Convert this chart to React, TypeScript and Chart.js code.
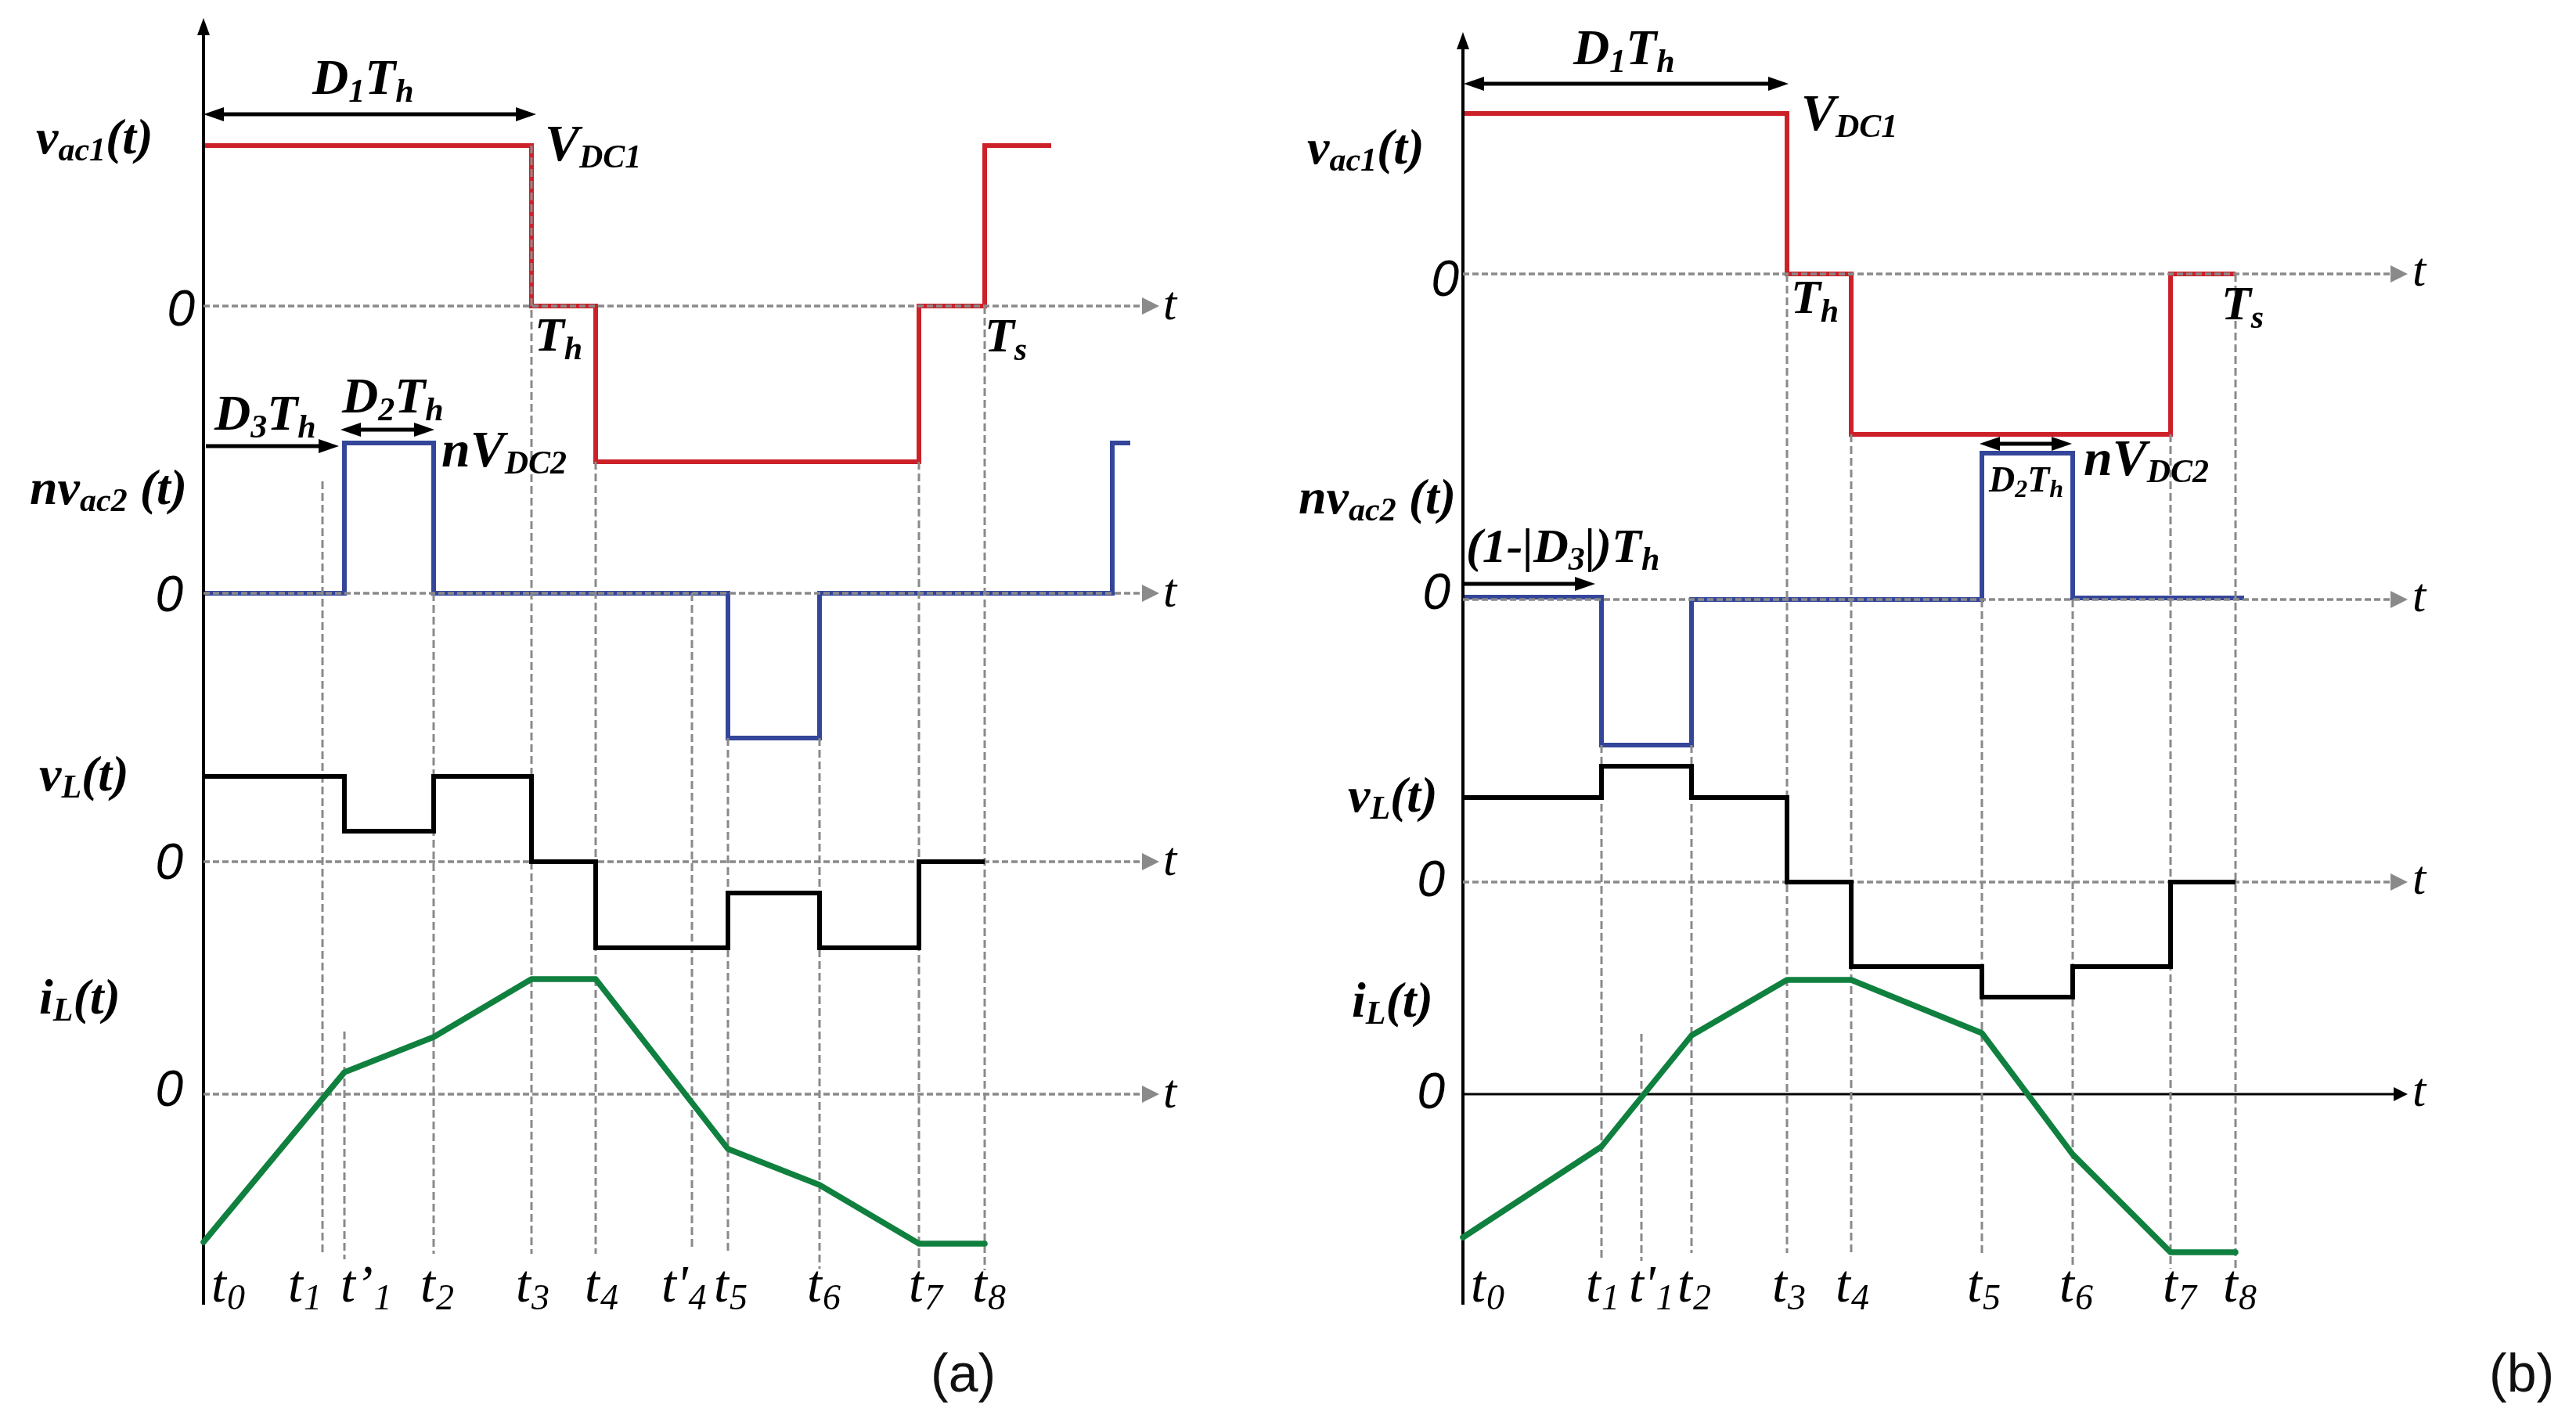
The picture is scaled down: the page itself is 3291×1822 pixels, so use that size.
import React, { useEffect, useRef } from "react";
import { Chart, registerables } from "chart.js";
Chart.register(...registerables);

const W = 3291;
const H = 1822;

// ---------------- panel (a) data (time units from t0, levels positive up) ----------------
const A_VAC1_T = [0, 419, 501, 914, 998, 1083];
const A_VAC1_V = [205, 0, -199, 0, 205, 205];
const A_NVAC2_T = [0, 180, 294, 670, 787, 1161, 1184];
const A_NVAC2_V = [0, 192, 0, -185, 0, 192, 192];
const A_VL_T = [0, 180, 294, 419, 501, 670, 787, 914, 998];
const A_VL_V = [109, 39, 109, 0, -110, -40, -110, 0, 0];
const A_IL_T = [0, 180, 294, 419, 501, 670, 787, 914, 998];
const A_IL_V = [-189, 28, 73, 147, 147, -70, -116, -191, -191];
const A_TICK_T = [0, 152, 180, 294, 419, 501, 624, 670, 787, 914, 998];
const A_TICK_MAIN = ["t", "t", "t’", "t", "t", "t", "t'", "t", "t", "t", "t"];
const A_TICK_SUB = ["0", "1", "1", "2", "3", "4", "4", "5", "6", "7", "8"];
const A_GUIDE_T = [152, 180, 294, 419, 501, 624, 670, 787, 914, 998];

// ---------------- panel (b) data ----------------
const B_VAC1_T = [0, 414, 496, 904, 987];
const B_VAC1_V = [205, 0, -205, 0, 0];
const B_NVAC2_T = [0, 177, 292, 663, 779, 998];
const B_NVAC2_V = [3, -186, 0, 187, 2, 2];
const B_VL_T = [0, 177, 292, 414, 496, 663, 779, 904, 987];
const B_VL_V = [108, 148, 108, 0, -108, -147, -108, 0, 0];
const B_IL_T = [0, 177, 292, 414, 496, 663, 779, 904, 987];
const B_IL_V = [-183, -67, 75, 146, 146, 78, -77, -202, -202];
const B_TICK_T = [0, 177, 228, 292, 414, 496, 663, 779, 904, 987];
const B_TICK_MAIN = ["t", "t", "t'", "t", "t", "t", "t", "t", "t", "t"];
const B_TICK_SUB = ["0", "1", "1", "2", "3", "4", "5", "6", "7", "8"];
const B_GUIDE_T = [177, 228, 292, 414, 496, 663, 779, 904, 987];

// ---------------- layout (positions / sizes / styles) ----------------
const ORIGIN_A = 260;
const ORIGIN_B = 1869;
const A_ROWS = [391, 758, 1101, 1398];
const B_ROWS = [350, 766, 1127, 1398];
const A_GUIDE_TOP = [615, 1318, 758, 186, 590, 758, 943, 943, 590, 391];
const A_GUIDE_BOT = [1602, 1609, 1602, 1602, 1602, 1597, 1602, 1621, 1623, 1623];
const B_GUIDE_TOP = [952, 1321, 952, 350, 555, 766, 766, 555, 350];
const B_GUIDE_BOT = [1611, 1611, 1601, 1601, 1601, 1601, 1621, 1621, 1621];
const A_TICK_DX = [10, -44, -5, -17, -20, -14, -39, -18, -16, -13, -16];
const B_TICK_DX = [10, -20, -16, -18, -19, -20, -19, -17, -10, -16];
const TICK_BASE = 1663;
const A_ZERO_END = 1199, A_ZERO_TIP = 1221;
const B_ZERO_END = 1185, B_ZERO_TIP = 1207;
const AXIS_TOP_A = 23, AXIS_TOP_B = 41, AXIS_BOT = 1667;

const RED = "#cc2129";
const BLUE = "#34469a";
const GREEN = "#10803f";
const BLACK = "#000000";
const GRAY = "#8a8a8a";
const SERIF = '"Liberation Serif", "Times New Roman", serif';
const SANS = '"Liberation Sans", Arial, sans-serif';
const TRACE_W = 6;
const CURRENT_W = 7.5;

type Part = [string, boolean];
interface RichLabel { x: number; y: number; parts: Part[]; size: number; sub: number; dy: number; }

const LABELS: RichLabel[] = [
  // panel (a)
  { x: 46, y: 196, parts: [["v", false], ["ac1", true], ["(t)", false]], size: 64, sub: 42, dy: 9 },
  { x: 38, y: 644, parts: [["nv", false], ["ac2", true], [" (t)", false]], size: 64, sub: 42, dy: 9 },
  { x: 50, y: 1010, parts: [["v", false], ["L", true], ["(t)", false]], size: 64, sub: 42, dy: 9 },
  { x: 50, y: 1295, parts: [["i", false], ["L", true], ["(t)", false]], size: 64, sub: 42, dy: 9 },
  { x: 399, y: 120, parts: [["D", false], ["1", true], ["T", false], ["h", true]], size: 64, sub: 42, dy: 10 },
  { x: 696, y: 205, parts: [["V", false], ["DC1", true]], size: 66, sub: 42, dy: 9 },
  { x: 683, y: 448, parts: [["T", false], ["h", true]], size: 62, sub: 42, dy: 11 },
  { x: 1258, y: 449, parts: [["T", false], ["s", true]], size: 62, sub: 42, dy: 11 },
  { x: 274, y: 549, parts: [["D", false], ["3", true], ["T", false], ["h", true]], size: 64, sub: 42, dy: 10 },
  { x: 437, y: 527, parts: [["D", false], ["2", true], ["T", false], ["h", true]], size: 64, sub: 42, dy: 10 },
  { x: 564, y: 596, parts: [["nV", false], ["DC2", true]], size: 66, sub: 42, dy: 9 },
  // panel (b)
  { x: 1670, y: 209, parts: [["v", false], ["ac1", true], ["(t)", false]], size: 64, sub: 42, dy: 9 },
  { x: 1659, y: 656, parts: [["nv", false], ["ac2", true], [" (t)", false]], size: 64, sub: 42, dy: 9 },
  { x: 1722, y: 1037, parts: [["v", false], ["L", true], ["(t)", false]], size: 64, sub: 42, dy: 9 },
  { x: 1727, y: 1299, parts: [["i", false], ["L", true], ["(t)", false]], size: 64, sub: 42, dy: 9 },
  { x: 2010, y: 82, parts: [["D", false], ["1", true], ["T", false], ["h", true]], size: 64, sub: 42, dy: 10 },
  { x: 2301, y: 166, parts: [["V", false], ["DC1", true]], size: 66, sub: 42, dy: 9 },
  { x: 2288, y: 400, parts: [["T", false], ["h", true]], size: 62, sub: 42, dy: 11 },
  { x: 2838, y: 408, parts: [["T", false], ["s", true]], size: 62, sub: 42, dy: 11 },
  { x: 1873, y: 718, parts: [["(1-|D", false], ["3", true], ["|)T", false], ["h", true]], size: 62, sub: 42, dy: 10 },
  { x: 2541, y: 628, parts: [["D", false], ["2", true], ["T", false], ["h", true]], size: 46, sub: 32, dy: 7 },
  { x: 2662, y: 607, parts: [["nV", false], ["DC2", true]], size: 66, sub: 42, dy: 9 },
];

// annotation arrows: [x1, x2, y, double]
const ARROWS: [number, number, number, boolean][] = [
  [260, 685, 146, true],
  [435, 555, 549, true],
  [263, 433, 570, false],
  [1870, 2285, 107, true],
  [2529, 2647, 567, true],
  [1870, 2038, 746, false],
];

const A_ZERO_LABEL_RIGHT = [249, 234, 234, 234];
const A_ZERO_LABEL_BASE = [416, 781, 1123, 1413];
const B_ZERO_LABEL_RIGHT = [1864, 1853, 1846, 1846];
const B_ZERO_LABEL_BASE = [378, 778, 1145, 1416];

function pts(T: number[], V: number[], row: number) {
  return T.map((t, i) => ({ x: t, y: row - V[i] }));
}

function guidePts(T: number[], top: number[], bot: number[]) {
  const out: any[] = [];
  T.forEach((t, i) => {
    out.push({ x: t, y: top[i] }, { x: t, y: bot[i] }, { x: t, y: null });
  });
  return out;
}

function lineDs(data: any[], axis: string, color: string, width: number, extra: any = {}) {
  return {
    type: "line",
    data,
    xAxisID: axis,
    yAxisID: "y",
    borderColor: color,
    backgroundColor: color,
    borderWidth: width,
    pointRadius: 0,
    pointHoverRadius: 0,
    fill: false,
    tension: 0,
    spanGaps: false,
    borderCapStyle: "butt",
    borderJoinStyle: "miter",
    ...extra,
  };
}

function hArrowHead(ctx: CanvasRenderingContext2D, baseX: number, tipX: number, y: number, half: number, color: string) {
  ctx.fillStyle = color;
  ctx.beginPath();
  ctx.moveTo(tipX, y);
  ctx.lineTo(baseX, y - half);
  ctx.lineTo(baseX, y + half);
  ctx.closePath();
  ctx.fill();
}

function drawRich(ctx: CanvasRenderingContext2D, L: RichLabel, style: string) {
  let cx = L.x;
  ctx.fillStyle = "#000";
  ctx.textAlign = "left";
  ctx.textBaseline = "alphabetic";
  for (const [text, sub] of L.parts) {
    ctx.font = `${style} ${sub ? L.sub : L.size}px ${SERIF}`;
    ctx.fillText(text, cx, L.y + (sub ? L.dy : 0));
    cx += ctx.measureText(text).width;
  }
}

const overlay = {
  id: "overlay",
  afterDatasetsDraw(chart: any) {
    const ctx: CanvasRenderingContext2D = chart.ctx;
    const xa = chart.scales.xa;
    const xb = chart.scales.xb;
    const ys = chart.scales.y;
    ctx.save();

    // zero-line arrowheads and "t"
    A_ROWS.forEach((r) => {
      const yy = ys.getPixelForValue(r);
      hArrowHead(ctx, xa.getPixelForValue(A_ZERO_END), xa.getPixelForValue(A_ZERO_TIP), yy, 11, GRAY);
      ctx.font = `italic 62px ${SERIF}`;
      ctx.fillStyle = "#000";
      ctx.textAlign = "left";
      ctx.fillText("t", xa.getPixelForValue(A_ZERO_TIP) + 5, yy + 17);
    });
    B_ROWS.forEach((r, i) => {
      const yy = ys.getPixelForValue(r);
      const solid = i === 3;
      hArrowHead(ctx, xb.getPixelForValue(B_ZERO_END) + (solid ? 4 : 0), xb.getPixelForValue(B_ZERO_TIP), yy, solid ? 9 : 11, solid ? BLACK : GRAY);
      ctx.font = `italic 62px ${SERIF}`;
      ctx.fillStyle = "#000";
      ctx.textAlign = "left";
      ctx.fillText("t", xb.getPixelForValue(B_ZERO_TIP) + 6, yy + 15);
    });

    // vertical axis arrowheads
    const drawUp = (x: number, tip: number) => {
      ctx.fillStyle = "#000";
      ctx.beginPath();
      ctx.moveTo(x, tip);
      ctx.lineTo(x - 8, tip + 22);
      ctx.lineTo(x + 8, tip + 22);
      ctx.closePath();
      ctx.fill();
    };
    drawUp(xa.getPixelForValue(0), ys.getPixelForValue(AXIS_TOP_A));
    drawUp(xb.getPixelForValue(0), ys.getPixelForValue(AXIS_TOP_B));

    // annotation arrows
    ctx.strokeStyle = "#000";
    ctx.lineWidth = 5;
    for (const [x1, x2, y, dbl] of ARROWS) {
      const hl = 26;
      ctx.beginPath();
      ctx.moveTo(dbl ? x1 + hl - 4 : x1, y);
      ctx.lineTo(x2 - hl + 4, y);
      ctx.stroke();
      hArrowHead(ctx, x2 - hl, x2, y, 9, "#000");
      if (dbl) hArrowHead(ctx, x1 + hl, x1, y, 9, "#000");
    }

    // rich labels
    LABELS.forEach((L) => drawRich(ctx, L, "italic bold"));

    // zero labels
    ctx.font = `italic 64px ${SANS}`;
    ctx.fillStyle = "#000";
    ctx.textAlign = "right";
    A_ZERO_LABEL_RIGHT.forEach((x, i) => ctx.fillText("0", x, A_ZERO_LABEL_BASE[i]));
    B_ZERO_LABEL_RIGHT.forEach((x, i) => ctx.fillText("0", x, B_ZERO_LABEL_BASE[i]));

    // time tick labels
    const tick = (scale: any, t: number, dx: number, main: string, sub: string) => {
      const x0 = scale.getPixelForValue(t) + dx;
      ctx.textAlign = "left";
      ctx.font = `italic 68px ${SERIF}`;
      ctx.fillText(main, x0, TICK_BASE);
      const w = ctx.measureText(main).width;
      ctx.font = `italic 46px ${SERIF}`;
      ctx.fillText(sub, x0 + w + 1, TICK_BASE + 10);
    };
    A_TICK_T.forEach((t, i) => tick(xa, t, A_TICK_DX[i], A_TICK_MAIN[i], A_TICK_SUB[i]));
    B_TICK_T.forEach((t, i) => tick(xb, t, B_TICK_DX[i], B_TICK_MAIN[i], B_TICK_SUB[i]));

    // panel captions
    ctx.font = `68px ${SANS}`;
    ctx.textAlign = "left";
    ctx.fillStyle = "#111";
    ctx.fillText("(a)", 1189, 1778);
    ctx.fillText("(b)", 3180, 1778);

    ctx.restore();
  },
};

export default function App() {
  const ref = useRef<HTMLCanvasElement>(null);

  useEffect(() => {
    const canvas = ref.current;
    if (!canvas) return;
    const dashH = { borderDash: [8, 4] };
    const dashV = { borderDash: [10, 5] };
    const datasets: any[] = [];

    // first datasets are drawn last (on top): black & green traces over the guides
    datasets.push(lineDs(pts(A_VL_T, A_VL_V, A_ROWS[2]), "xa", BLACK, TRACE_W, { stepped: "before" }));
    datasets.push(lineDs(pts(A_IL_T, A_IL_V, A_ROWS[3]), "xa", GREEN, CURRENT_W, { borderCapStyle: "round", borderJoinStyle: "round" }));
    datasets.push(lineDs(pts(B_VL_T, B_VL_V, B_ROWS[2]), "xb", BLACK, TRACE_W, { stepped: "before" }));
    datasets.push(lineDs(pts(B_IL_T, B_IL_V, B_ROWS[3]), "xb", GREEN, CURRENT_W, { borderCapStyle: "round", borderJoinStyle: "round" }));

    // guides / zero lines
    datasets.push(lineDs(guidePts(A_GUIDE_T, A_GUIDE_TOP, A_GUIDE_BOT), "xa", GRAY, 3, dashV));
    datasets.push(lineDs(guidePts(B_GUIDE_T, B_GUIDE_TOP, B_GUIDE_BOT), "xb", GRAY, 3, dashV));
    A_ROWS.forEach((r) => datasets.push(lineDs([{ x: 0, y: r }, { x: A_ZERO_END, y: r }], "xa", GRAY, 3.5, dashH)));
    B_ROWS.forEach((r, i) =>
      datasets.push(
        i === 3
          ? lineDs([{ x: 0, y: r }, { x: B_ZERO_END + 6, y: r }], "xb", BLACK, 3)
          : lineDs([{ x: 0, y: r }, { x: B_ZERO_END, y: r }], "xb", GRAY, 3.5, dashH)
      )
    );

    // vertical axes
    datasets.push(lineDs([{ x: 0, y: AXIS_TOP_A + 15 }, { x: 0, y: AXIS_BOT }], "xa", BLACK, 4));
    datasets.push(lineDs([{ x: 0, y: AXIS_TOP_B + 15 }, { x: 0, y: AXIS_BOT }], "xb", BLACK, 4));

    // red & blue traces (under the dashed guides)
    datasets.push(lineDs(pts(A_VAC1_T, A_VAC1_V, A_ROWS[0]), "xa", RED, TRACE_W, { stepped: "before" }));
    datasets.push(lineDs(pts(A_NVAC2_T, A_NVAC2_V, A_ROWS[1]), "xa", BLUE, TRACE_W, { stepped: "before" }));
    datasets.push(lineDs(pts(B_VAC1_T, B_VAC1_V, B_ROWS[0]), "xb", RED, TRACE_W, { stepped: "before" }));
    datasets.push(lineDs(pts(B_NVAC2_T, B_NVAC2_V, B_ROWS[1]), "xb", BLUE, TRACE_W, { stepped: "before" }));

    const chart = new Chart(canvas, {
      type: "line",
      data: { datasets },
      options: {
        animation: false,
        responsive: false,
        maintainAspectRatio: false,
        devicePixelRatio: 1,
        events: [],
        layout: { padding: 0 },
        plugins: { legend: { display: false }, tooltip: { enabled: false } },
        scales: {
          xa: { type: "linear", min: -ORIGIN_A, max: W - ORIGIN_A, display: false },
          xb: { type: "linear", min: -ORIGIN_B, max: W - ORIGIN_B, display: false },
          y: { type: "linear", min: 0, max: H, reverse: true, display: false },
        },
      } as any,
      plugins: [overlay as any],
    });
    return () => chart.destroy();
  }, []);

  return (
    <div style={{ position: "absolute", left: 0, top: 0, width: W, height: H, background: "#fff" }}>
      <canvas ref={ref} width={W} height={H} style={{ width: W, height: H, display: "block" }} />
    </div>
  );
}
